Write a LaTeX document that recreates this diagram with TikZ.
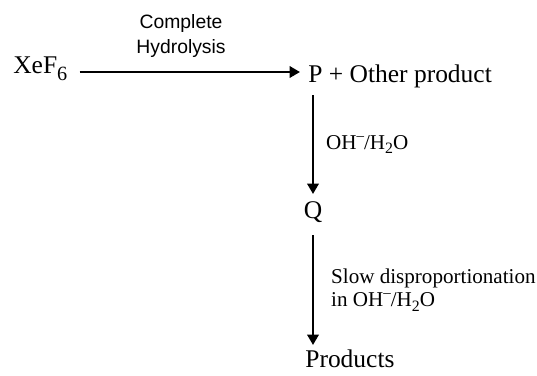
\documentclass[tikz,border=0pt]{standalone}
\usepackage{fontspec}
\setmainfont{Liberation Serif}
\setsansfont{Liberation Sans}
\usepackage{tikz}
\usetikzlibrary{positioning, arrows.meta, calc}

% lowered index and raised charge
\newcommand{\lowidx}[3]{\raisebox{-#1}{\fontsize{#2}{#2}\selectfont #3}}
\newcommand{\charge}{\raisebox{0.42em}{\fontsize{8.5pt}{9pt}\selectfont –}}

\begin{document}
\begin{tikzpicture}[
    chem/.style={font=\fontsize{14.5}{17}\selectfont, inner sep=0pt},
    cond/.style={font=\fontsize{12}{13.1}\selectfont, inner sep=0pt, align=left},
    rxn/.style={line width=1.35pt, -{Triangle[length=2.1mm, width=2.3mm]}}
]

\useasboundingbox (0,0) rectangle (10.74,-7.5);

% Species
\node[chem, anchor=base west] (xef) at (0.26,-1.46) {XeF\lowidx{4.5pt}{11.5pt}{6}};
\node[chem, anchor=base west] (p) at (6.16,-1.64) {P + Other product};
\node[chem, anchor=base] (q) at (6.26,-4.36) {Q};
\node[chem, anchor=base west] (prods) at (6.1,-7.34) {Products};

% Complete hydrolysis
\draw[rxn] ($(xef.base east)+(0.24,0.02)$) -- ($(p.base west)+(-0.16,0.2)$)
    node[pos=0.46, above=0.26cm, inner sep=0pt, align=center,
         font=\sffamily\fontsize{11}{14.2}\selectfont] (hyd) {Complete\\Hydrolysis};

% P to Q
\draw[rxn] ($(q.base |- p.base)+(0,-0.26)$) -- ($(q.base)+(0,0.48)$)
    node[midway, right=0.24cm, cond] (base1) {OH\charge/H\lowidx{2.5pt}{9pt}{2}O};

% Q to products
\draw[rxn] ($(q.base)+(0,-0.34)$) -- ($(q.base |- prods.base)+(0,0.44)$)
    node[midway, right=0.34cm, cond] (disp) {Slow disproportionation\\in OH\charge/H\lowidx{2.5pt}{9pt}{2}O};

\end{tikzpicture}
\end{document}
